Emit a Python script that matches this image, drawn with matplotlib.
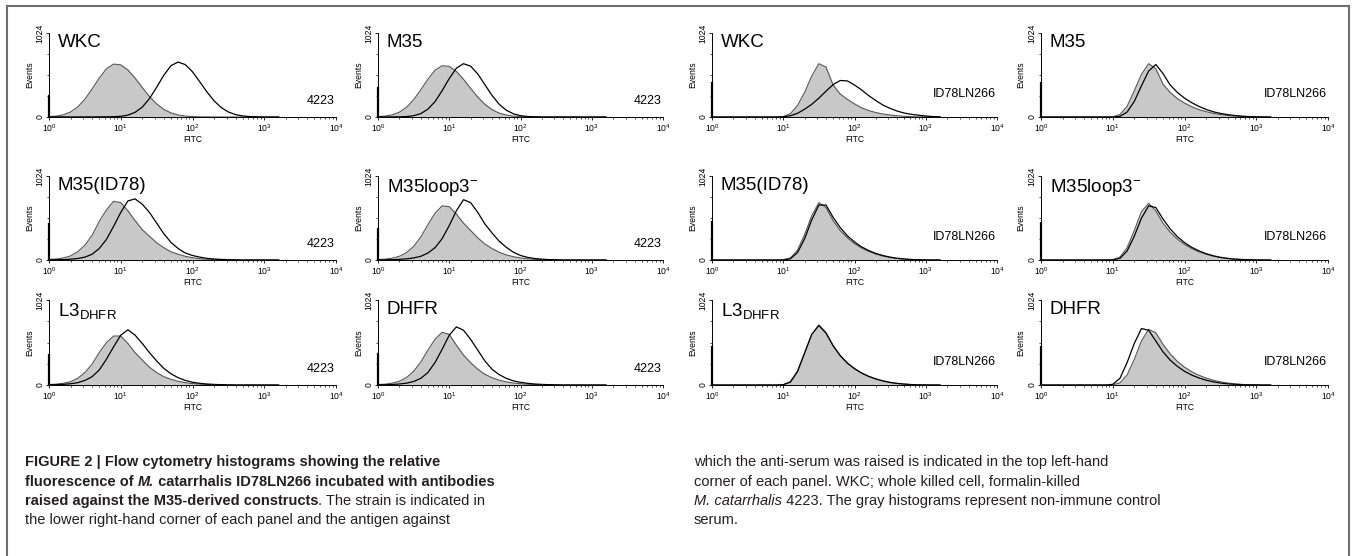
import numpy as np
import matplotlib
matplotlib.use("Agg")
import matplotlib.pyplot as plt
from matplotlib.lines import Line2D
from matplotlib.ticker import LogLocator, NullFormatter

plt.rcParams['font.family'] = ['Liberation Sans', 'DejaVu Sans']
plt.rcParams['mathtext.fontset'] = 'custom'
plt.rcParams['mathtext.rm'] = 'Liberation Sans'
plt.rcParams['mathtext.it'] = 'Liberation Sans:italic'
plt.rcParams['mathtext.bf'] = 'Liberation Sans:bold'

# log10(FITC) sampling positions, 0.1 decade apart
log_fitc = np.linspace(0, 3.2, 33)

# histogram heights (events, 0..1024)
# gray = non-immune control, outline = anti-serum
wkc_4223_ctrl = [5, 11, 27, 61, 122, 216, 341, 474, 588, 645, 636, 573, 474, 360, 250, 160, 93, 50, 25, 11, 5, 2, 1, 0, 0, 0, 0, 0, 0, 0, 0, 0, 0]
wkc_4223_serum = [1, 1, 1, 1, 1, 1, 1, 2, 2, 4, 8, 23, 57, 121, 224, 362, 509, 626, 670, 638, 551, 431, 307, 198, 115, 61, 29, 13, 5, 2, 0, 0, 0]
m35_4223_ctrl = [5, 11, 26, 59, 118, 210, 331, 460, 570, 625, 617, 556, 460, 349, 243, 155, 90, 48, 24, 11, 5, 2, 1, 0, 0, 0, 0, 0, 0, 0, 0, 0, 0]
m35_4223_serum = [1, 1, 1, 2, 5, 16, 41, 95, 187, 321, 469, 595, 650, 620, 525, 394, 264, 156, 83, 39, 16, 6, 2, 1, 0, 0, 0, 0, 0, 0, 0, 0, 0]
wkc_id78_ctrl = [0] * 10 + [5, 40, 140, 300, 500, 650, 610, 390, 280, 215, 160, 112, 78, 54, 36, 24, 15, 9, 5, 2, 1, 0, 0]
wkc_id78_serum = [0] * 10 + [3, 15, 45, 95, 155, 230, 315, 395, 445, 440, 390, 330, 260, 200, 145, 105, 72, 48, 32, 22, 12, 5, 2]
m35_id78_ctrl = [0] * 10 + [3, 30, 130, 320, 520, 650, 590, 400, 300, 225, 170, 125, 90, 65, 45, 30, 19, 11, 6, 3, 1, 0, 0]
m35_id78_serum = [0] * 10 + [0, 8, 60, 190, 380, 560, 640, 530, 390, 300, 230, 175, 130, 92, 64, 44, 29, 18, 10, 5, 2, 1, 0]

m35id78_4223_ctrl = [8, 12, 25, 50, 100, 180, 300, 470, 610, 715, 700, 600, 480, 370, 290, 210, 150, 100, 70, 45, 28, 16, 9, 5, 3, 1, 0, 0, 0, 0, 0, 0, 0]
m35id78_4223_serum = [2, 3, 5, 10, 18, 35, 70, 140, 250, 410, 580, 720, 745, 680, 580, 450, 320, 215, 140, 85, 55, 35, 20, 12, 7, 4, 2, 0, 0, 0, 0, 0, 0]
loop3_4223_ctrl = [6, 10, 22, 45, 90, 165, 280, 430, 570, 660, 650, 560, 450, 360, 270, 195, 140, 95, 62, 40, 25, 15, 8, 4, 2, 0, 0, 0, 0, 0, 0, 0, 0]
loop3_4223_serum = [2, 3, 4, 8, 14, 25, 45, 85, 150, 260, 420, 600, 735, 700, 580, 440, 330, 230, 155, 95, 55, 32, 18, 10, 5, 3, 0, 0, 0, 0, 0, 0, 0]
m35id78_id78_ctrl = [0] * 10 + [3, 25, 120, 310, 540, 700, 640, 480, 360, 270, 200, 145, 105, 72, 48, 30, 18, 10, 5, 2, 1, 0, 0]
m35id78_id78_serum = [0] * 10 + [1, 15, 90, 260, 490, 670, 670, 520, 395, 295, 220, 160, 115, 80, 54, 35, 21, 12, 6, 3, 1, 0, 0]
loop3_id78_ctrl = [0] * 10 + [4, 35, 150, 360, 590, 690, 600, 450, 340, 255, 190, 140, 100, 70, 46, 29, 17, 10, 5, 2, 1, 0, 0]
loop3_id78_serum = [0] * 10 + [2, 20, 110, 290, 510, 660, 640, 500, 380, 285, 212, 155, 112, 78, 52, 33, 20, 11, 6, 3, 1, 0, 0]

l3_4223_ctrl = [6, 10, 20, 40, 80, 150, 250, 390, 510, 590, 590, 500, 390, 300, 215, 150, 100, 68, 44, 28, 17, 10, 6, 3, 2, 0, 0, 0, 0, 0, 0, 0, 0]
l3_4223_serum = [3, 5, 8, 15, 28, 55, 100, 180, 310, 460, 600, 665, 600, 500, 390, 290, 200, 135, 88, 55, 33, 20, 12, 7, 4, 2, 0, 0, 0, 0, 0, 0, 0]
dhfr_4223_ctrl = [6, 10, 22, 45, 90, 165, 275, 420, 550, 635, 610, 480, 360, 270, 190, 130, 88, 58, 38, 24, 15, 9, 5, 3, 1, 0, 0, 0, 0, 0, 0, 0, 0]
dhfr_4223_serum = [2, 3, 6, 12, 22, 42, 80, 150, 270, 430, 600, 700, 660, 550, 420, 290, 190, 125, 80, 50, 32, 20, 12, 7, 4, 2, 0, 0, 0, 0, 0, 0, 0]
l3_id78_ctrl = [0] * 10 + [4, 40, 170, 390, 610, 715, 620, 470, 350, 260, 195, 142, 102, 72, 48, 30, 18, 10, 5, 2, 1, 0, 0]
l3_id78_serum = [0] * 10 + [3, 35, 160, 385, 610, 720, 630, 475, 355, 265, 198, 145, 104, 73, 49, 31, 19, 11, 5, 2, 1, 0, 0]
dhfr_id78_ctrl = [0] * 10 + [2, 25, 120, 310, 530, 670, 630, 490, 375, 285, 215, 160, 118, 84, 58, 38, 24, 14, 7, 3, 1, 0, 0]
dhfr_id78_serum = [0] * 10 + [8, 80, 270, 500, 680, 660, 530, 400, 300, 225, 165, 120, 85, 58, 38, 24, 14, 8, 4, 2, 1, 0, 0]

# events piled in the first channel
first_channel = [255, 355, 418, 418, 440, 380, 460, 450, 364, 376, 460, 460]

antigens = ['WKC', 'M35', 'WKC', 'M35',
            'M35(ID78)', 'M35loop3$^{-}$', 'M35(ID78)', 'M35loop3$^{-}$',
            'L3$_{\\mathdefault{DHFR}}$', 'DHFR', 'L3$_{\\mathdefault{DHFR}}$', 'DHFR']
strains = ['4223', '4223', 'ID78LN266', 'ID78LN266'] * 3
controls = [wkc_4223_ctrl, m35_4223_ctrl, wkc_id78_ctrl, m35_id78_ctrl,
            m35id78_4223_ctrl, loop3_4223_ctrl, m35id78_id78_ctrl, loop3_id78_ctrl,
            l3_4223_ctrl, dhfr_4223_ctrl, l3_id78_ctrl, dhfr_id78_ctrl]
sera = [wkc_4223_serum, m35_4223_serum, wkc_id78_serum, m35_id78_serum,
        m35id78_4223_serum, loop3_4223_serum, m35id78_id78_serum, loop3_id78_serum,
        l3_4223_serum, dhfr_4223_serum, l3_id78_serum, dhfr_id78_serum]

W, H = 1355, 556
fig = plt.figure(figsize=(W / 100, H / 100), dpi=100)

# panel placement in pixels (left, right) / (top, baseline)
col_x = [(49, 336), (378, 663), (712, 997), (1041, 1328)]
row_y = [(33, 117), (176, 260), (300, 385)]

x = 10 ** log_fitc
for i in range(12):
    r, c = divmod(i, 4)
    x0, x1 = col_x[c]
    yt, yb = row_y[r]
    ax = fig.add_axes([x0 / W, 1 - yb / H, (x1 - x0) / W, (yb - yt) / H])
    ax.fill_between(x, 0, controls[i], color='#c8c8c8', lw=0, zorder=1)
    ax.plot(x, controls[i], color='#555555', lw=0.8, zorder=2)
    ax.plot(x, sera[i], color='black', lw=0.9, zorder=3)
    ax.plot([1, 1], [0, first_channel[i]], color='black', lw=1.6, zorder=4, clip_on=False)
    ax.set_xscale('log')
    ax.set_xlim(1, 1e4)
    ax.set_ylim(0, 1024)
    ax.spines['top'].set_visible(False)
    ax.spines['right'].set_visible(False)
    for s in ['left', 'bottom']:
        ax.spines[s].set_linewidth(0.7)
    ax.xaxis.set_major_locator(LogLocator(base=10, numticks=10))
    ax.xaxis.set_minor_locator(LogLocator(base=10, subs=np.arange(2, 10), numticks=10))
    ax.xaxis.set_minor_formatter(NullFormatter())
    ax.set_yticks([0, 1024])
    ax.set_yticklabels(['0', '1024'], rotation=90, va='center')
    ax.set_yticks([256, 512, 768], minor=True)
    ax.tick_params(which='major', labelsize=6.2, length=2.5, width=0.6, pad=1)
    ax.tick_params(which='minor', length=1.3, width=0.5)
    ax.set_xlabel('FITC', fontsize=6.2, labelpad=1)
    ax.set_ylabel('Events', fontsize=6.2, labelpad=1)
    ax.text(0.03, 0.99, antigens[i], transform=ax.transAxes, fontsize=13.5,
            ha='left', va='top')
    sy = 0.12 if strains[i] == '4223' else 0.2
    ax.text(0.995, sy, strains[i], transform=ax.transAxes, fontsize=9,
            ha='right', va='bottom')

# frame round the figure
frame = '#6d6e71'
fig.add_artist(Line2D([7 / W, 1349 / W], [1 - 6 / H, 1 - 6 / H], color=frame, lw=1.5))
fig.add_artist(Line2D([7 / W, 7 / W], [0, 1 - 6 / H], color=frame, lw=1.5))
fig.add_artist(Line2D([1349 / W, 1349 / W], [0, 1 - 6 / H], color=frame, lw=1.5))

# caption, drawn run by run so bold / italic can mix on a line
cap_font = ['Liberation Sans Narrow', 'Liberation Sans', 'DejaVu Sans']
cap_size = 10.5
renderer = fig.canvas.get_renderer()


def caption_line(x_px, y_px, runs):
    for txt, weight, style in runs:
        t = fig.text(x_px / W, 1 - y_px / H, txt, fontsize=cap_size, family=cap_font,
                     weight=weight, style=style, color='#231f20', va='baseline', ha='left')
        x_px += t.get_window_extent(renderer).width


B, N = 'bold', 'normal'
left_lines = [
    [("FIGURE 2 | Flow cytometry histograms showing the relative", B, N)],
    [("fluorescence of ", B, N), ("M.", B, 'italic'), (" catarrhalis ID78LN266 incubated with antibodies", B, N)],
    [("raised against the M35-derived constructs", B, N), (". The strain is indicated in", N, N)],
    [("the lower right-hand corner of each panel and the antigen against", N, N)],
]
right_lines = [
    [("which the anti-serum was raised is indicated in the top left-hand", N, N)],
    [("corner of each panel. WKC; whole killed cell, formalin-killed", N, N)],
    [("M. catarrhalis", N, 'italic'), (" 4223. The gray histograms represent non-immune control", N, N)],
    [("serum.", N, N)],
]
line_y = [466, 486, 505, 524]
for k in range(4):
    caption_line(25, line_y[k], left_lines[k])
    caption_line(694, line_y[k], right_lines[k])

fig.savefig('out.png', dpi=100)
